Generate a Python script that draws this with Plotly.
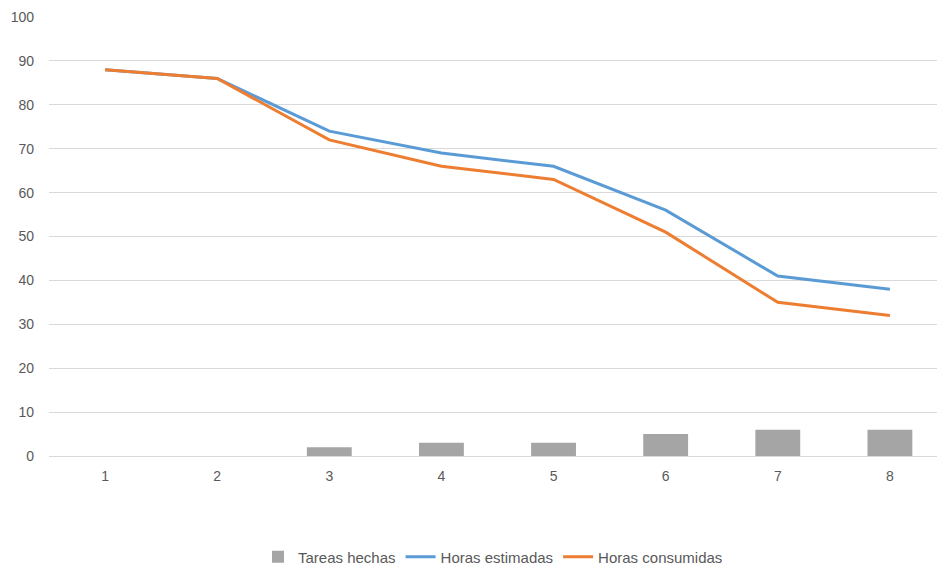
import plotly.graph_objects as go

sprints = [1, 2, 3, 4, 5, 6, 7, 8]
tareas_hechas = [0, 0, 2, 3, 3, 5, 6, 6]
horas_estimadas = [88, 86, 74, 69, 66, 56, 41, 38]
horas_consumidas = [88, 86, 72, 66, 63, 51, 35, 32]

GRID = "#D9D9D9"
TEXT = "#595959"
FONT = "Liberation Sans Narrow, Liberation Sans, Arial, sans-serif"

fig = go.Figure()
fig.add_trace(go.Bar(
    x=sprints, y=tareas_hechas, name="Tareas hechas",
    marker=dict(color="#A5A5A5", line=dict(width=0)), width=0.4,
))
fig.add_trace(go.Scatter(
    x=sprints, y=horas_estimadas, name="Horas estimadas", mode="lines",
    line=dict(color="#5B9BD5", width=3),
))
fig.add_trace(go.Scatter(
    x=sprints, y=horas_consumidas, name="Horas consumidas", mode="lines",
    line=dict(color="#ED7D31", width=3),
))

fig.update_layout(
    width=937, height=565,
    margin=dict(l=49, r=0, t=17, b=109, autoexpand=False),
    paper_bgcolor="white", plot_bgcolor="white",
    font=dict(family=FONT, size=14, color=TEXT),
    showlegend=True,
    legend=dict(orientation="h", x=0.5, xanchor="center",
                yref="container", y=0.014, yanchor="middle",
                font=dict(size=15, color=TEXT), traceorder="normal",
                itemwidth=30),
    xaxis=dict(
        range=[0.5, 8.42], tickmode="array", tickvals=sprints,
        ticktext=[str(s) for s in sprints],
        showgrid=False, zeroline=False, showline=False,
        ticks="", ticklabelstandoff=10, automargin=False,
    ),
    yaxis=dict(
        range=[0, 100], dtick=10, showgrid=True, gridcolor=GRID, gridwidth=1,
        zeroline=True, zerolinecolor=GRID, zerolinewidth=1,
        showline=False, ticks="", ticklabelstandoff=14, automargin=False,
    ),
)

fig.write_html("out.html")
